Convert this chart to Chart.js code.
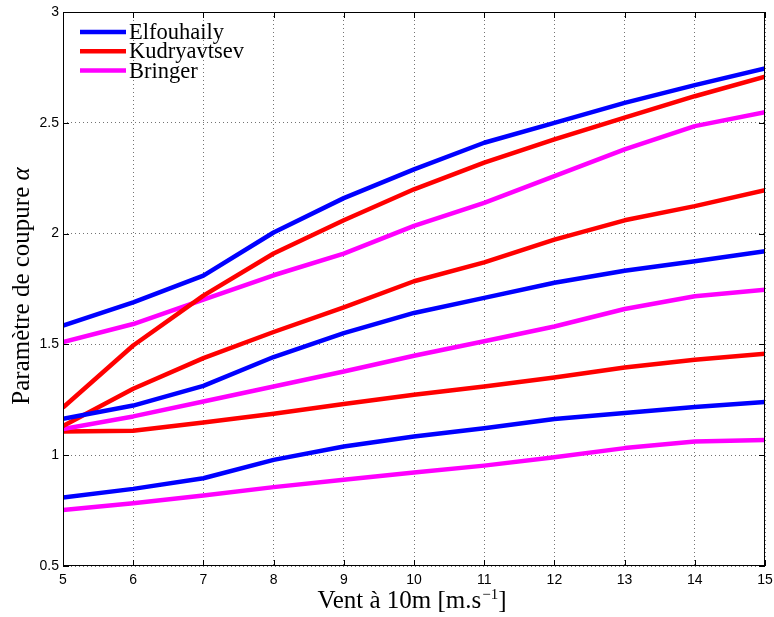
<!DOCTYPE html>
<html>
<head>
<meta charset="utf-8">
<script src="https://cdn.jsdelivr.net/npm/chart.js@4/dist/chart.umd.min.js"></script>
<style>
  body { margin: 0; background: #fff; }
  #wrap { width: 774px; height: 617px; }
</style>
</head>
<body>
<div id="wrap"><canvas id="myChart" width="774" height="617"></canvas></div>
<script>
// wind speed at 10 m (m/s)
const windSpeed = [5, 6, 7, 8, 9, 10, 11, 12, 13, 14, 15];

// cut-off parameter alpha, three curves per model
const elfouhaily1 = [1.585, 1.69, 1.81, 2.005, 2.16, 2.29, 2.41, 2.50, 2.59, 2.67, 2.745];
const elfouhaily2 = [1.164, 1.224, 1.313, 1.443, 1.551, 1.642, 1.71, 1.778, 1.832, 1.875, 1.92];
const elfouhaily3 = [0.809, 0.848, 0.896, 0.979, 1.039, 1.084, 1.122, 1.163, 1.19, 1.217, 1.24];

const kudryavtsev1 = [1.215, 1.495, 1.72, 1.91, 2.06, 2.20, 2.32, 2.425, 2.523, 2.62, 2.708];
const kudryavtsev2 = [1.132, 1.30, 1.438, 1.556, 1.667, 1.785, 1.87, 1.973, 2.06, 2.124, 2.196];
const kudryavtsev3 = [1.107, 1.11, 1.148, 1.187, 1.231, 1.273, 1.31, 1.351, 1.396, 1.431, 1.458];

const bringer1 = [1.511, 1.592, 1.702, 1.812, 1.91, 2.035, 2.139, 2.259, 2.38, 2.485, 2.548];
const bringer2 = [1.118, 1.175, 1.242, 1.31, 1.378, 1.449, 1.514, 1.581, 1.66, 1.717, 1.747];
const bringer3 = [0.753, 0.783, 0.818, 0.856, 0.889, 0.922, 0.953, 0.991, 1.032, 1.062, 1.069];

const yTicks = [0.5, 1, 1.5, 2, 2.5, 3];

const BLUE = "#0000ff", RED = "#ff0000", MAGENTA = "#ff00ff";
const SERIF = "'Liberation Serif'";

const toPoints = (ys) => ys.map((y, i) => ({ x: windSpeed[i], y: y }));
const series = (label, ys, color) => ({
  label: label,
  data: toPoints(ys),
  borderColor: color,
  backgroundColor: color,
  borderWidth: 4.5,
  pointRadius: 0,
  tension: 0,
  fill: false,
  borderJoinStyle: "round",
});

const datasets = [
  series("Elfouhaily", elfouhaily1, BLUE),
  series("Kudryavtsev", kudryavtsev1, RED),
  series("Bringer", bringer1, MAGENTA),
  series("Elfouhaily", elfouhaily2, BLUE),
  series("Kudryavtsev", kudryavtsev2, RED),
  series("Bringer", bringer2, MAGENTA),
  series("Elfouhaily", elfouhaily3, BLUE),
  series("Kudryavtsev", kudryavtsev3, RED),
  series("Bringer", bringer3, MAGENTA),
];

// box around the axes, inward tick marks, legend inside the plot, axis titles
const matlabFrame = {
  id: "matlabFrame",
  afterDatasetsDraw(chart) {
    const { ctx, chartArea: a, scales } = chart;
    ctx.save();
    ctx.strokeStyle = "#000";
    ctx.lineWidth = 1;
    ctx.strokeRect(a.left + 0.5, a.top + 0.5, a.right - a.left - 1, a.bottom - a.top - 1);
    const len = 6;
    ctx.beginPath();
    windSpeed.forEach((v) => {
      const px = Math.round(scales.x.getPixelForValue(v)) + 0.5;
      ctx.moveTo(px, a.bottom); ctx.lineTo(px, a.bottom - len);
      ctx.moveTo(px, a.top); ctx.lineTo(px, a.top + len);
    });
    yTicks.forEach((v) => {
      const py = Math.round(scales.y.getPixelForValue(v)) + 0.5;
      ctx.moveTo(a.left, py); ctx.lineTo(a.left + len, py);
      ctx.moveTo(a.right, py); ctx.lineTo(a.right - len, py);
    });
    ctx.stroke();

    // legend, one entry per model
    const seen = [];
    chart.data.datasets.forEach((d) => {
      if (!seen.find((s) => s.label === d.label)) seen.push(d);
    });
    ctx.font = "22.5px " + SERIF;
    ctx.textBaseline = "middle";
    ctx.fillStyle = "#000";
    seen.forEach((d, i) => {
      const y = a.top + 20 + i * 19.3;
      ctx.strokeStyle = d.borderColor;
      ctx.lineWidth = 4.5;
      ctx.beginPath();
      ctx.moveTo(a.left + 17, y);
      ctx.lineTo(a.left + 63, y);
      ctx.stroke();
      ctx.fillText(d.label, a.left + 66, y + 1);
    });

    // x title with superscript
    ctx.textBaseline = "alphabetic";
    ctx.textAlign = "left";
    const main = "Vent à 10m [m.s", sup = "−1", end = "]";
    ctx.font = "25px " + SERIF;
    const w1 = ctx.measureText(main).width, w3 = ctx.measureText(end).width;
    ctx.font = "15px " + SERIF;
    const w2 = ctx.measureText(sup).width + 1;
    let x = (a.left + a.right) / 2 - 2 - (w1 + w2 + w3) / 2;
    const base = 608;
    ctx.font = "25px " + SERIF;
    ctx.fillText(main, x, base);
    ctx.font = "15px " + SERIF;
    ctx.fillText(sup, x + w1 + 1, base - 9);
    ctx.font = "25px " + SERIF;
    ctx.fillText(end, x + w1 + w2, base);

    // y title, alpha in italic
    const yt = "Paramètre de coupure ", ya = "α";
    ctx.font = "25px " + SERIF;
    const t1 = ctx.measureText(yt).width;
    ctx.font = "italic 25px " + SERIF;
    const t2 = ctx.measureText(ya).width;
    ctx.translate(28.5, (a.top + a.bottom) / 2 - 3);
    ctx.rotate(-Math.PI / 2);
    const sx = -(t1 + t2) / 2;
    ctx.font = "25px " + SERIF;
    ctx.fillText(yt, sx, 0);
    ctx.font = "italic 25px " + SERIF;
    ctx.fillText(ya, sx + t1, 0);
    ctx.restore();
  },
};

const ctx = document.getElementById("myChart");
const myChart = new Chart(ctx, {
  type: "line",
  data: { datasets: datasets },
  options: {
    responsive: false,
    animation: false,
    devicePixelRatio: 1,
    layout: { padding: { top: 12, right: 9, left: 0, bottom: 0 } },
    plugins: { legend: { display: false }, tooltip: { enabled: false } },
    scales: {
      x: {
        type: "linear",
        min: 5,
        max: 15,
        afterFit: (s) => { s.height = 51; s.paddingLeft = 0; s.paddingRight = 0; },
        afterBuildTicks: (s) => { s.ticks = windSpeed.map((v) => ({ value: v })); },
        ticks: {
          padding: 6,
          color: "#000",
          font: { family: "'Liberation Sans'", size: 14 },
          maxRotation: 0,
          callback: (v) => String(v),
        },
        grid: { color: "rgba(0,0,0,0.55)", drawTicks: false },
        border: { display: false, dash: [1, 3] },
      },
      y: {
        min: 0.5,
        max: 3,
        afterFit: (s) => { s.width = 63; s.paddingTop = 0; s.paddingBottom = 0; },
        afterBuildTicks: (s) => { s.ticks = yTicks.map((v) => ({ value: v })); },
        ticks: {
          padding: 4,
          color: "#000",
          font: { family: "'Liberation Sans'", size: 14 },
          callback: (v) => String(v),
        },
        grid: { color: "rgba(0,0,0,0.55)", drawTicks: false },
        border: { display: false, dash: [1, 3] },
      },
    },
  },
  plugins: [matlabFrame],
});
</script>
</body>
</html>
